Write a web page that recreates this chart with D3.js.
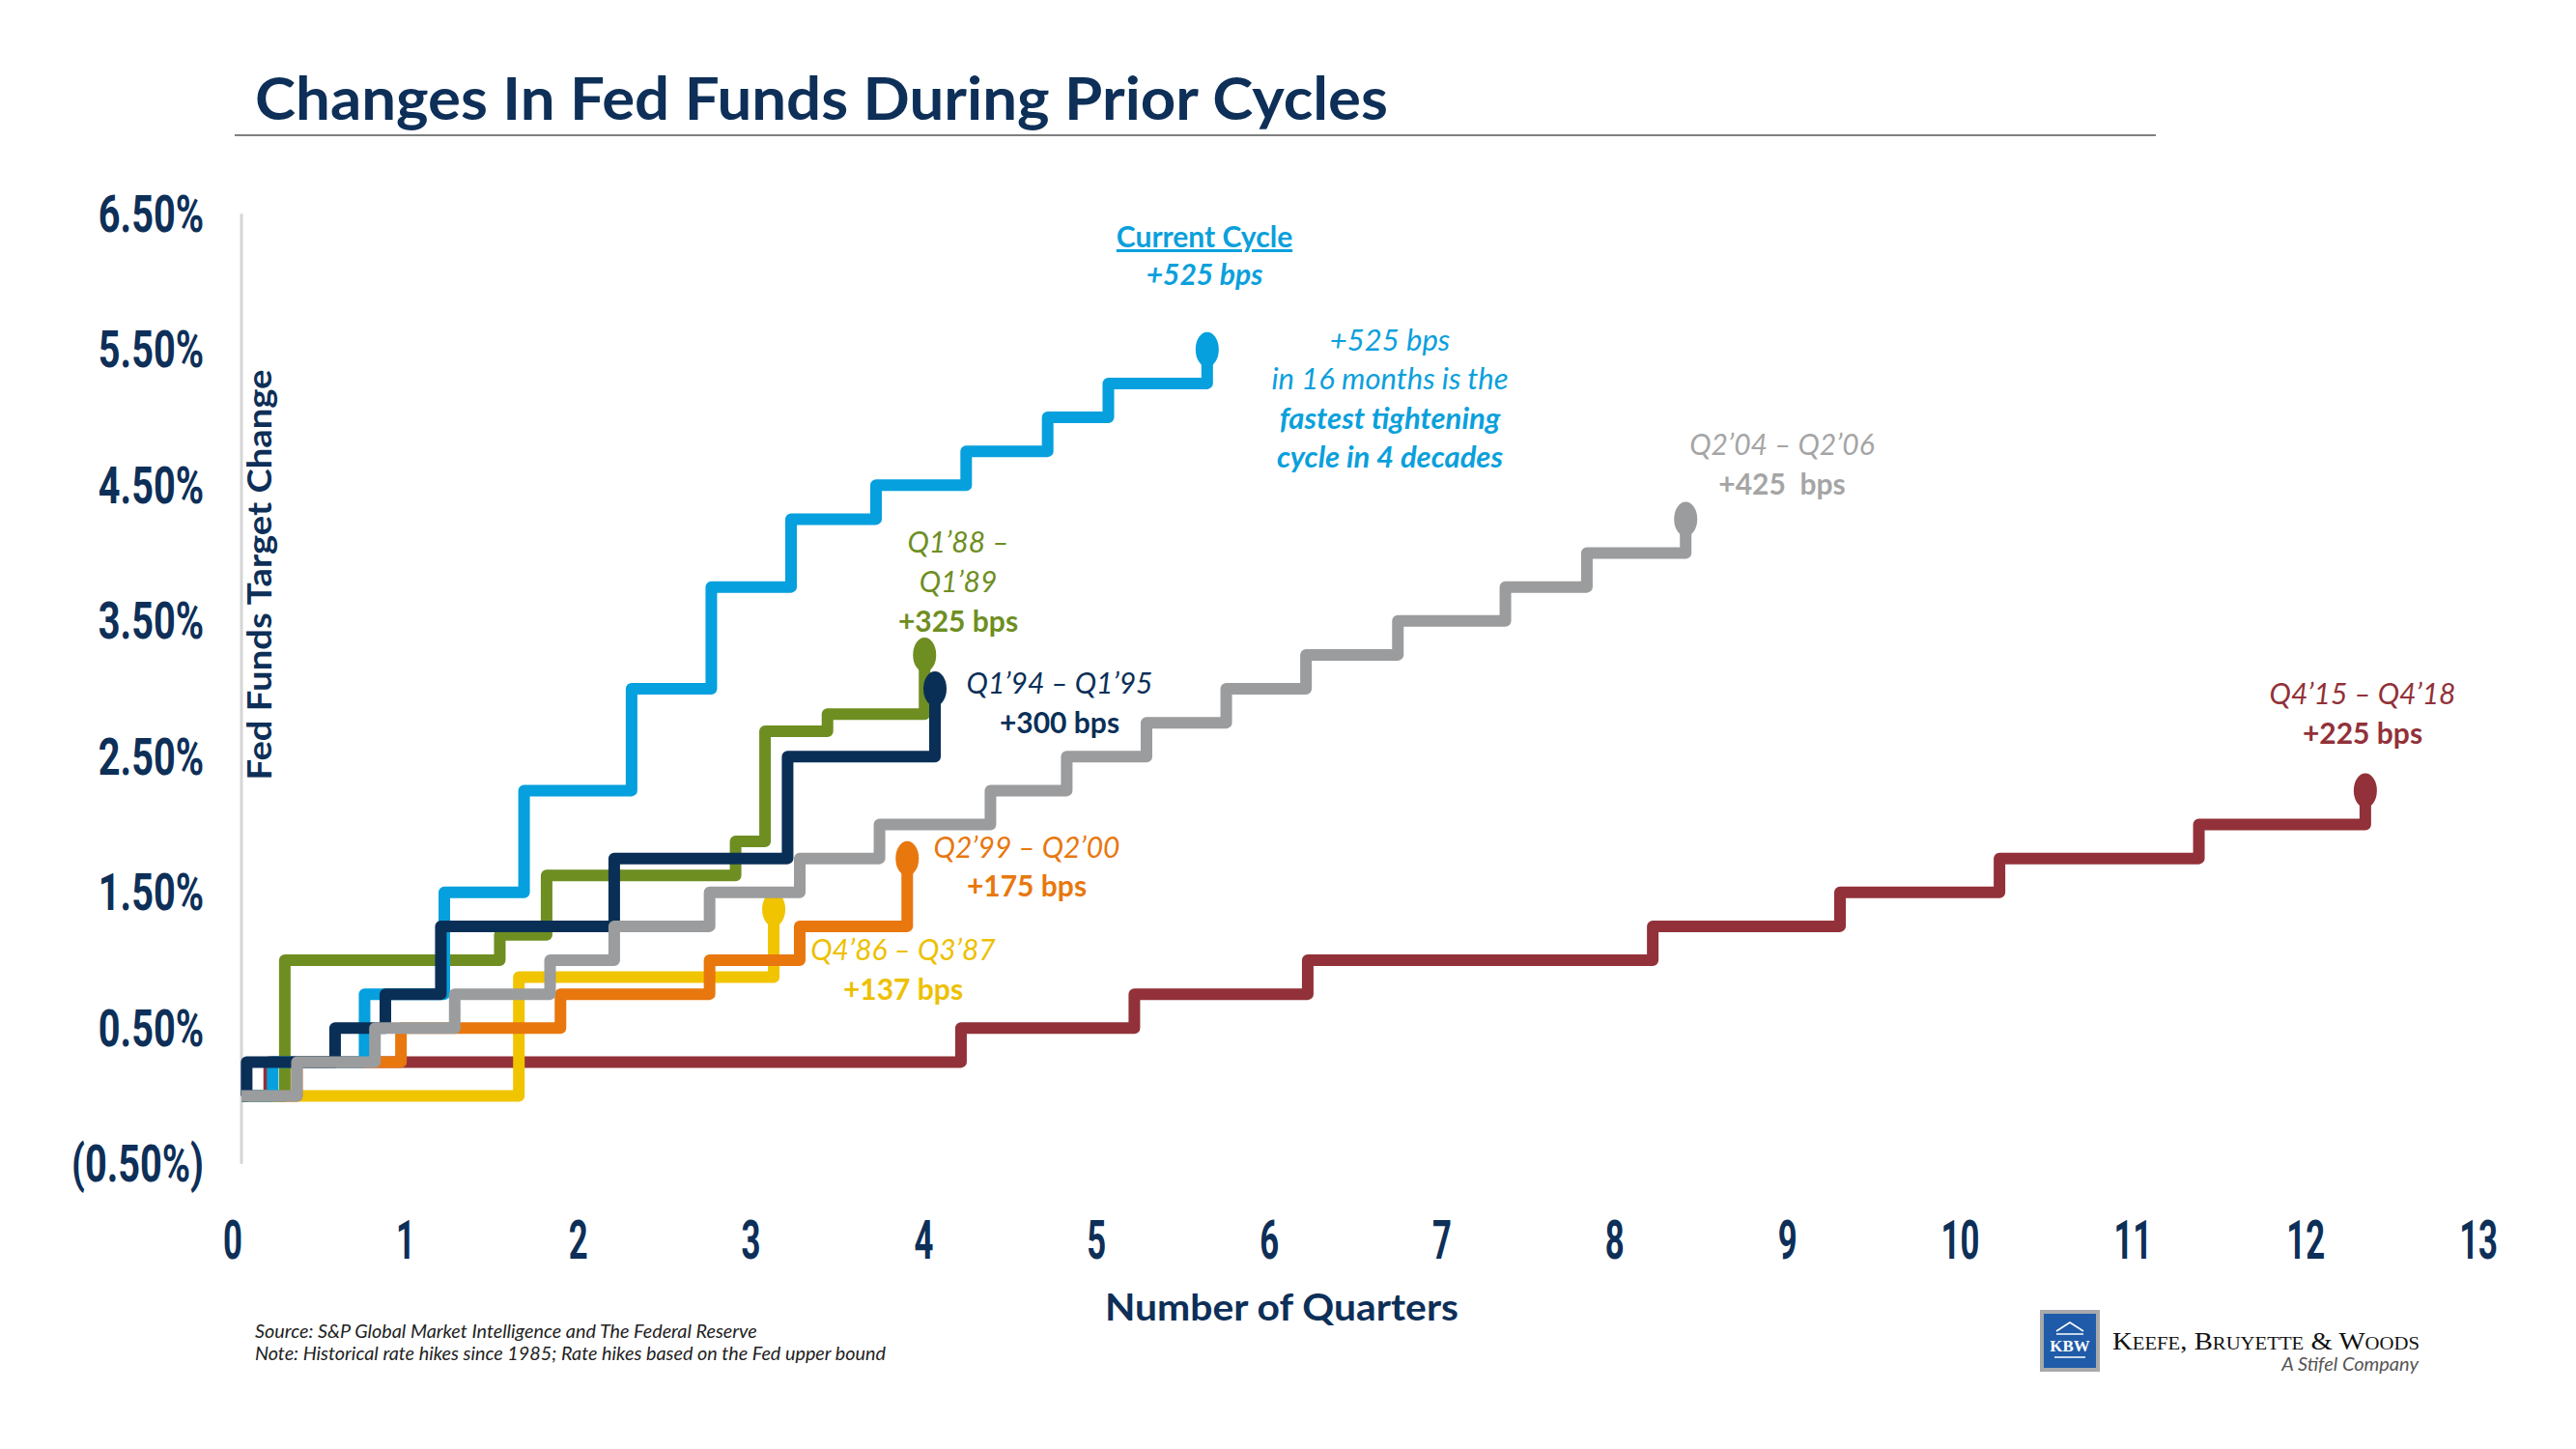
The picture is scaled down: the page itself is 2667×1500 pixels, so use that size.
<!DOCTYPE html>
<html><head><meta charset="utf-8">
<script src="https://cdnjs.cloudflare.com/ajax/libs/d3/7.8.5/d3.min.js"></script>
<style>
html,body{margin:0;padding:0;background:#fff;}
svg{display:block;}
</style></head>
<body>
<script>
// ---------------- DATA ----------------
const xTickValues = [0,1,2,3,4,5,6,7,8,9,10,11,12,13];
const xTickLabels = ["0","1","2","3","4","5","6","7","8","9","10","11","12","13"];
const yTickValues = [-0.5,0.5,1.5,2.5,3.5,4.5,5.5,6.5];
const yTickLabels = ["(0.50%)","0.50%","1.50%","2.50%","3.50%","4.50%","5.50%","6.50%"];

// quarters since cycle start (step dates) and cumulative change (%)
const currentQ = [0,0.18,0.71,1.17,1.63,2.25,2.71,3.17,3.66,4.18,4.65,5.00,5.57];
const currentV = [0,0.25,0.75,1.50,2.25,3.00,3.75,4.25,4.50,4.75,5.00,5.25,5.50];
const q94Q = [0,0.03,0.54,0.83,1.15,2.15,3.15,4.00];
const q94V = [0,0.25,0.50,0.75,1.25,1.75,2.50,3.00];
const q88Q = [0,0.25,1.49,1.76,2.85,3.02,3.38,3.94];
const q88V = [0,1.00,1.1875,1.625,1.875,2.6875,2.8125,3.25];
const q04Q = [0,0.32,0.77,1.23,1.78,2.15,2.70,3.22,3.68,4.32,4.76,5.22,5.68,6.14,6.67,7.29,7.76,8.33];
const q04V = [0,0.25,0.50,0.75,1.00,1.25,1.50,1.75,2.00,2.25,2.50,2.75,3.00,3.25,3.50,3.75,4.00,4.25];
const q99Q = [0,0.32,0.92,1.84,2.70,3.22,3.84];
const q99V = [0,0.25,0.50,0.75,1.00,1.25,1.75];
const q86Q = [0,1.60,3.07];
const q86V = [0,0.875,1.375];
const q15Q = [0,0.16,4.15,5.15,6.15,8.14,9.22,10.14,11.29,12.25];
const q15V = [0,0.25,0.50,0.75,1.00,1.25,1.50,1.75,2.00,2.25];

const seriesNames = ["Q4'15 – Q4'18","Q4'86 – Q3'87","Q2'99 – Q2'00","Q1'88 – Q1'89","Current Cycle","Q1'94 – Q1'95","Q2'04 – Q2'06"];
const seriesQ = [q15Q,q86Q,q99Q,q88Q,currentQ,q94Q,q04Q];
const seriesV = [q15V,q86V,q99V,q88V,currentV,q94V,q04V];
const seriesColors = ["#923139","#F1C400","#E8770E","#6E8E22","#05A0DD","#0A2F57","#9B9C9E"];

// ---------------- LAYOUT ----------------
const W = 2667, H = 1500;
const svg = d3.select("body").append("svg").attr("width",W).attr("height",H)
  .style("font-family","Lato, 'Open Sans', sans-serif");

const x = d3.scaleLinear().domain([0,13]).range([250, 250+13*179.5]);
const y = d3.scaleLinear().domain([-0.5,6.5]).range([1204.75, 221.25]);

// Title
svg.append("text").attr("x",264).attr("y",124)
  .attr("fill","#0D2F58").attr("font-weight",700).attr("font-size",62)
  .attr("textLength",1173).attr("lengthAdjust","spacingAndGlyphs")
  .text("Changes In Fed Funds During Prior Cycles");
svg.append("line").attr("x1",243).attr("x2",2232).attr("y1",140).attr("y2",140)
  .attr("stroke","#555").attr("stroke-width",1.5);

// vertical axis line
svg.append("line").attr("x1",x(0)).attr("x2",x(0)).attr("y1",y(6.5)).attr("y2",y(-0.5))
  .attr("stroke","#D6D6D6").attr("stroke-width",3);

// Y tick labels
const yAxis = d3.axisLeft(y).tickValues(yTickValues).tickFormat((d,i)=>yTickLabels[i]).tickSize(0);
const gy = svg.append("g").attr("transform",`translate(211,0)`).call(yAxis);
gy.select(".domain").remove();
gy.selectAll(".tick text").each(function(){
  d3.select(this).attr("x",0).attr("dy",null).attr("dominant-baseline","central")
   .attr("font-family","Roboto, Lato, sans-serif").attr("font-weight",700).attr("font-size",54)
   .attr("fill","#0D2F58").attr("text-anchor","end")
   .attr("transform","scale(0.735,1)");
});

// X tick labels (label centres sit slightly left of the data grid, as in the original)
const xAxis = d3.axisBottom(x).tickValues(xTickValues).tickFormat((d,i)=>xTickLabels[i]).tickSize(0);
const gx = svg.append("g").attr("transform",`translate(0,1284)`).call(xAxis);
gx.select(".domain").remove();
gx.selectAll(".tick").attr("transform", d => `translate(${x(d) - 9 - 0.65*d},0)`);
gx.selectAll(".tick text").each(function(){
  d3.select(this).attr("y",0).attr("dy",null).attr("dominant-baseline","central")
   .attr("font-family","Roboto, Lato, sans-serif").attr("font-weight",700).attr("font-size",56)
   .attr("fill","#0D2F58").attr("transform","scale(0.62,1)");
});

// Axis titles
svg.append("text").attr("x",1327).attr("y",1367).attr("text-anchor","middle")
  .attr("fill","#0D2F58").attr("font-weight",700).attr("font-size",38)
  .attr("textLength",366).attr("lengthAdjust","spacingAndGlyphs")
  .text("Number of Quarters");
svg.append("text").attr("transform","translate(281,595) rotate(-90)").attr("text-anchor","middle")
  .attr("fill","#0D2F58").attr("font-weight",700).attr("font-size",34)
  .attr("textLength",425).attr("lengthAdjust","spacingAndGlyphs")
  .text("Fed Funds Target Change");

// Lines
const line = d3.line().x(d=>x(d[0])).y(d=>y(d[1])).curve(d3.curveStepAfter);
const gl = svg.append("g");
seriesQ.forEach((qs,i)=>{
  const pts = qs.map((q,j)=>[q, seriesV[i][j]]);
  gl.append("path").attr("d",line(pts)).attr("fill","none")
    .attr("stroke",seriesColors[i]).attr("stroke-width",12)
    .attr("stroke-linejoin","round");
  const last = pts[pts.length-1];
  gl.append("ellipse").attr("cx",x(last[0])).attr("cy",y(last[1]))
    .attr("rx",12).attr("ry",18).attr("fill",seriesColors[i]);
});

// Annotations
function label(xp, yp, txt, color, opts={}){
  const t = svg.append("text").attr("x",xp).attr("y",yp).attr("text-anchor","middle")
    .attr("fill",color).attr("font-size",opts.size||30)
    .attr("font-weight",opts.bold?700:400)
    .attr("font-style",opts.italic?"italic":"normal").text(txt);
  if(opts.underline) t.attr("text-decoration","underline");
  return t;
}
const cb = "#0AA0DC";
label(1247,256,"Current Cycle",cb,{bold:true,underline:true});
label(1247,295,"+525 bps",cb,{bold:true,italic:true});
label(1439,363,"+525 bps",cb,{italic:true,size:31});
label(1439,403,"in 16 months is the",cb,{italic:true,size:31});
label(1439,444,"fastest tightening",cb,{italic:true,bold:true,size:31});
label(1439,484,"cycle in 4 decades",cb,{italic:true,bold:true,size:31});

label(1845,471,"Q2’04 – Q2’06","#A5A5A5",{italic:true});
label(1845,512,"+425\u00A0\u00A0bps","#A5A5A5",{bold:true});

label(992,572,"Q1’88 –","#6E8E22",{italic:true});
label(992,613,"Q1’89","#6E8E22",{italic:true});
label(992,654,"+325 bps","#6E8E22",{bold:true});

label(1097,718,"Q1’94 – Q1’95","#0A2F57",{italic:true});
label(1097,759,"+300 bps","#0A2F57",{bold:true});

label(1063,888,"Q2’99 – Q2’00","#E8770E",{italic:true});
label(1063,928,"+175 bps","#E8770E",{bold:true});

label(935,994,"Q4’86 – Q3’87","#EDC000",{italic:true});
label(935,1035,"+137 bps","#EDC000",{bold:true});

label(2446,729,"Q4’15 – Q4’18","#923139",{italic:true});
label(2446,770,"+225 bps","#923139",{bold:true});

// Source notes
svg.append("text").attr("x",264).attr("y",1385).attr("font-size",19.8).attr("font-style","italic")
  .attr("fill","#222").text("Source: S&P Global Market Intelligence and The Federal Reserve");
svg.append("text").attr("x",264).attr("y",1408).attr("font-size",19.8).attr("font-style","italic")
  .attr("fill","#222").text("Note: Historical rate hikes since 1985; Rate hikes based on the Fed upper bound");

// Logo
const lg = svg.append("g");
lg.append("rect").attr("x",2112).attr("y",1356).attr("width",62).attr("height",64).attr("fill","#A7A9AC");
lg.append("rect").attr("x",2116).attr("y",1360).attr("width",54).attr("height",56).attr("fill","#1F5BA8");
lg.append("path").attr("d","M2129,1378 L2143,1369 L2157,1378").attr("fill","none").attr("stroke","#fff").attr("stroke-width",1.5);
lg.append("line").attr("x1",2129).attr("x2",2157).attr("y1",1381).attr("y2",1381).attr("stroke","#fff").attr("stroke-width",1.5);
lg.append("text").attr("x",2143).attr("y",1399).attr("text-anchor","middle").attr("fill","#fff")
  .attr("font-family","'Liberation Serif', 'DejaVu Serif', serif").attr("font-weight",700).attr("font-size",17).text("KBW");
lg.append("line").attr("x1",2127).attr("x2",2159).attr("y1",1405).attr("y2",1405).attr("stroke","#fff").attr("stroke-width",1.5);
lg.append("text").attr("x",2187).attr("y",1397).attr("fill","#111")
  .attr("font-family","'Liberation Serif', 'DejaVu Serif', serif").attr("font-size",25)
  .style("font-variant","small-caps")
  .attr("textLength",318).attr("lengthAdjust","spacingAndGlyphs")
  .text("Keefe, Bruyette & Woods");
lg.append("text").attr("x",2504).attr("y",1419).attr("text-anchor","end").attr("fill","#555")
  .attr("font-style","italic").attr("font-size",20).text("A Stifel Company");
</script>
</body></html>
